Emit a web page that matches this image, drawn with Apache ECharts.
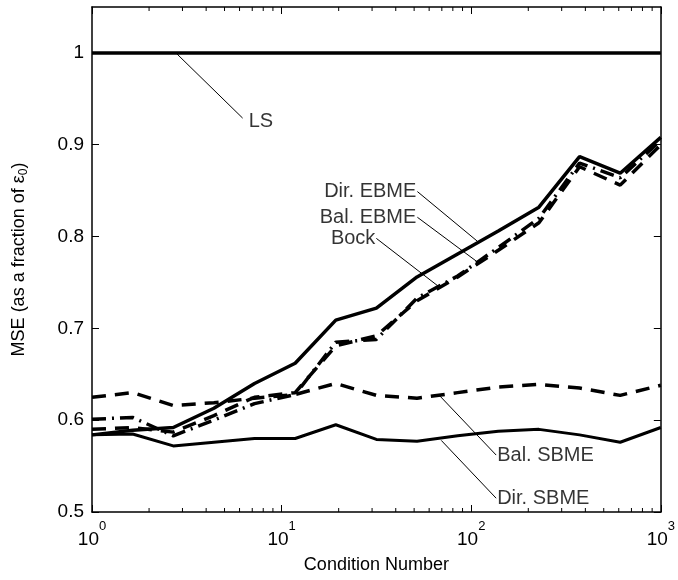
<!DOCTYPE html>
<html>
<head>
<meta charset="utf-8">
<script src="https://cdn.jsdelivr.net/npm/echarts@6/dist/echarts.min.js"></script>
<style>
  html, body { margin: 0; padding: 0; background: #fff; }
  #mychart { width: 678px; height: 580px; }
</style>
</head>
<body>
<div id="mychart"></div>
<script>
// condition numbers, 15 log-spaced points from 1 to 1000
const conditionNumbers = [1, 1.638, 2.683, 4.394, 7.197, 11.79, 19.31, 31.62, 51.79, 84.83, 138.9, 227.6, 372.8, 610.5, 1000]

// MSE as a fraction of eps0
const ls = [1, 1, 1, 1, 1, 1, 1, 1, 1, 1, 1, 1, 1, 1, 1]
const dirEbme = [0.584, 0.589, 0.592, 0.613, 0.640, 0.662, 0.709, 0.722, 0.756, 0.781, 0.806, 0.832, 0.887, 0.869, 0.908]
const balEbme = [0.590, 0.592, 0.587, 0.605, 0.625, 0.630, 0.681, 0.692, 0.730, 0.756, 0.785, 0.815, 0.876, 0.856, 0.900]
const bock = [0.601, 0.603, 0.583, 0.600, 0.618, 0.628, 0.685, 0.688, 0.733, 0.757, 0.788, 0.820, 0.880, 0.864, 0.905]
const balSbme = [0.625, 0.630, 0.616, 0.619, 0.624, 0.628, 0.640, 0.627, 0.624, 0.630, 0.636, 0.639, 0.635, 0.627, 0.638]
const dirSbme = [0.584, 0.585, 0.572, 0.576, 0.580, 0.580, 0.595, 0.579, 0.577, 0.583, 0.588, 0.590, 0.584, 0.576, 0.592]

// axis ticks
const yTicks = [0.5, 0.6, 0.7, 0.8, 0.9, 1]
const minorX = [2, 3, 4, 5, 6, 7, 8, 9, 20, 30, 40, 50, 60, 70, 80, 90, 200, 300, 400, 500, 600, 700, 800, 900]

// annotations: text, point on the curve, end of leader line (where the text sits)
const noteText = ['LS', 'Dir. EBME', 'Bal. EBME', 'Bock', 'Bal. SBME', 'Dir. SBME']
const noteOnCurve = [[2.77, 1.0], [107.6, 0.795], [110, 0.771], [67.9, 0.745], [67.9, 0.627], [69.5, 0.578]]
const noteAtText = [[6.23, 0.929], [52.0, 0.849], [52.0, 0.821], [31.6, 0.798], [135.4, 0.562], [135.4, 0.515]]
const noteSide = ['right', 'left', 'left', 'left', 'right', 'right']

const FONT = 'Liberation Sans'
const Y_MIN = 0.5
const Y_MAX = 1.05
const MINOR_LEN = 4

function pts (ys) {
  return conditionNumbers.map((x, i) => [x, ys[i]])
}

function curve (name, ys, width, dash) {
  return {
    name: name,
    type: 'line',
    data: pts(ys),
    symbol: 'none',
    lineStyle: { color: '#000', width: width, type: dash },
    z: 3
  }
}

let series = [
  curve('LS', ls, 3.5, 'solid'),
  curve('Dir. EBME', dirEbme, 3.5, 'solid'),
  curve('Bal. EBME', balEbme, 3.5, [14, 9]),
  curve('Bock', bock, 3.5, [14, 6, 2, 6]),
  curve('Bal. SBME', balSbme, 3.5, [14, 9]),
  curve('Dir. SBME', dirSbme, 3, 'solid')
]

noteText.forEach((t, i) => {
  series.push({
    type: 'line',
    data: [noteOnCurve[i], noteAtText[i]],
    symbol: 'none',
    lineStyle: { color: '#000', width: 1 },
    z: 4
  })
  series.push({
    type: 'scatter',
    data: [noteAtText[i]],
    symbolSize: 0,
    label: {
      show: true,
      formatter: t,
      position: noteSide[i],
      distance: i === 0 ? 6 : 1,
      offset: i === 0 ? [0, 3] : [0, 0],
      color: '#000',
      fontFamily: FONT,
      fontSize: 20
    },
    z: 5
  })
})

// minor log ticks (2..9 of each decade) on the bottom and top edges of the box
series.push({
  type: 'custom',
  silent: true,
  clip: false,
  data: minorX.map(v => [v, Y_MIN]),
  renderItem: (params, api) => {
    const b = api.coord([api.value(0), Y_MIN])
    const t = api.coord([api.value(0), Y_MAX])
    return {
      type: 'group',
      children: [
        { type: 'line', shape: { x1: b[0], y1: b[1], x2: b[0], y2: b[1] - MINOR_LEN }, style: { stroke: '#000', lineWidth: 1 } },
        { type: 'line', shape: { x1: t[0], y1: t[1], x2: t[0], y2: t[1] + MINOR_LEN }, style: { stroke: '#000', lineWidth: 1 } }
      ]
    }
  },
  z: 6
})

const axisLineStyle = { color: '#000', width: 1.5 }

let myChart = echarts.init(document.getElementById('mychart'))
myChart.setOption({
  animation: false,
  backgroundColor: '#fff',
  grid: { left: 92, right: 16, top: 7, bottom: 68 },
  xAxis: [
    {
      type: 'log',
      logBase: 10,
      min: 1,
      max: 1000,
      position: 'bottom',
      name: 'Condition Number',
      nameLocation: 'middle',
      nameGap: 44,
      nameTextStyle: { color: '#000', fontFamily: FONT, fontSize: 18 },
      axisLine: { onZero: false, lineStyle: axisLineStyle },
      axisTick: { inside: true, length: 7, lineStyle: { color: '#000' } },
      splitLine: { show: false },
      axisLabel: {
        margin: 8,
        color: '#000',
        formatter: v => '{b|10}{s|' + Math.round(Math.log10(v)) + '}',
        rich: {
          b: { fontFamily: FONT, fontSize: 19, color: '#000', padding: [10, 0, 0, 0] },
          s: { fontFamily: FONT, fontSize: 13, color: '#000', verticalAlign: 'top', padding: [0, 0, 8, 0] }
        }
      }
    },
    {
      type: 'log',
      logBase: 10,
      min: 1,
      max: 1000,
      position: 'top',
      axisLine: { onZero: false, lineStyle: axisLineStyle },
      axisTick: { inside: true, length: 7, lineStyle: { color: '#000' } },
      axisLabel: { show: false },
      splitLine: { show: false }
    }
  ],
  yAxis: [
    {
      type: 'value',
      min: Y_MIN,
      max: Y_MAX,
      position: 'left',
      name: '{t|MSE (as a fraction of ε}{s|0}{t|)}',
      nameLocation: 'middle',
      nameGap: 62,
      nameTextStyle: {
        rich: {
          t: { fontFamily: FONT, fontSize: 18, color: '#000' },
          s: { fontFamily: FONT, fontSize: 12, color: '#000', padding: [10, 0, 0, 0] }
        }
      },
      axisLine: { onZero: false, lineStyle: axisLineStyle },
      axisTick: { inside: true, length: 7, customValues: yTicks, lineStyle: { color: '#000' } },
      axisLabel: {
        customValues: yTicks,
        color: '#000',
        fontFamily: FONT,
        fontSize: 19,
        margin: 8,
        formatter: v => String(+v.toFixed(1))
      },
      splitLine: { show: false }
    },
    {
      type: 'value',
      min: Y_MIN,
      max: Y_MAX,
      position: 'right',
      axisLine: { onZero: false, lineStyle: axisLineStyle },
      axisTick: { inside: true, length: 7, customValues: yTicks, lineStyle: { color: '#000' } },
      axisLabel: { show: false },
      splitLine: { show: false }
    }
  ],
  series: series
})
</script>
</body>
</html>
